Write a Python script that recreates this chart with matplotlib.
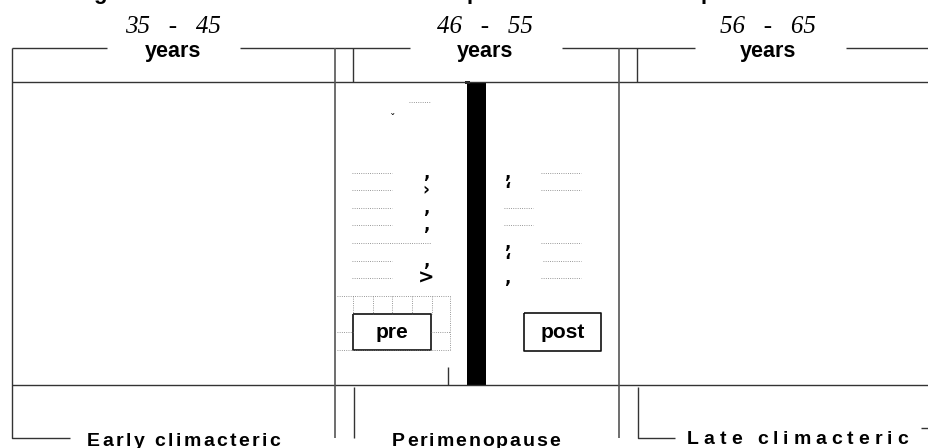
import matplotlib.pyplot as plt

# labels of the diagram
title_bits = ['g', 'p', 'p']
age_labels = ['35   -   45', '46   -   55', '56   -   65']
years_label = 'years'
phase_labels = ['Early climacteric', 'Perimenopause', 'Late climacteric']
box_labels = ['pre', 'post']

# layout (pixels)
W, H = 929, 448
title_x = [100, 473, 707]
age_x = [173, 485, 768]
phase_span = [(87, 280), (392, 560), (687, 908)]
box_span = [(353, 431, 314, 350), (524, 601, 313, 351)]
row_y = [173, 190, 208, 225, 243, 261, 278]
left_seg = [(352, 392), (352, 392), (352, 392), (352, 392), (352, 431), (352, 392), (352, 392)]
right_seg = [(541, 581), (541, 581), (504, 533), (504, 533), (541, 581), (543, 581), (541, 581)]
left_mark = [',', '›', ',', ',', '', ',', '>']
right_mark = [',', '‘', '', '', ',', '‘', ',']
bar_x = (467, 486)

fig = plt.figure(figsize=(9.29, 4.48), dpi=100)
ax = fig.add_axes([0, 0, 1, 1])
ax.set_xlim(0, W)
ax.set_ylim(H, 0)
ax.axis('off')

lc = '#333333'
def line(xs, ys, lw=1.0, c=lc, ls='-'):
    ax.plot(xs, ys, color=c, lw=lw, ls=ls, solid_capstyle='butt')

# frame lines
for a, b in [(12, 107), (240, 410), (562, 695), (846, 929)]:
    line([a, b], [48, 48])
line([12, 12, 70], [48, 438, 438])
line([12, 929], [82, 82])
line([12, 929], [385, 385])
for x in [335, 619]:
    line([x, x], [48, 438], lw=1.2, c='#555555')
for x in [353, 637]:
    line([x, x], [48, 82])
line([354, 354], [387, 438])
line([638, 638, 675], [387, 438, 438])
line([448, 448], [367, 385])
line([921, 929], [428, 428])

# menopause bar
ax.bar((bar_x[0] + bar_x[1]) / 2, 385 - 83, width=bar_x[1] - bar_x[0], bottom=83, color='black')
ax.bar(467.5, 3, width=5, bottom=81, color='#222222')

# cut-off title
for ch, x in zip(title_bits, title_x):
    ax.text(x, -1.5, ch, fontsize=16, fontweight='bold', family='Liberation Sans',
            ha='center', va='baseline')

for lab, x in zip(age_labels, age_x):
    ax.text(x, 33, lab, fontsize=18, style='italic', family='Liberation Serif',
            ha='center', va='baseline')
    ax.text(x, 57, years_label, fontsize=15.5, fontweight='bold', family='Liberation Sans',
            ha='center', va='baseline')

r = fig.canvas.get_renderer()
def spaced(s, x0, x1, y, size):
    ws = []
    for ch in s:
        if ch == ' ':
            ws.append(size * 100 / 72 * 0.278)
        else:
            t = ax.text(0, 0, ch, fontsize=size, fontweight='bold', family='Liberation Sans')
            ws.append(t.get_window_extent(r).width)
            t.remove()
    gap = (x1 - x0 - sum(ws)) / (len(s) - 1)
    x = x0
    for ch, w in zip(s, ws):
        ax.text(x, y, ch, fontsize=size, fontweight='bold', family='Liberation Sans',
                ha='left', va='baseline')
        x += w + gap

for lab, (a, b), y in zip(phase_labels, phase_span, [446, 446, 444]):
    spaced(lab, a, b, y, 14)

# pre / post boxes
for lab, (a, b, t, bt) in zip(box_labels, box_span):
    line([a, b, b, a, a], [t, t, bt, bt, t], lw=1.2, c='#111111')
    ax.text((a + b) / 2, (t + bt) / 2 + 1, lab, fontsize=15, fontweight='bold',
            family='Liberation Sans', ha='center', va='center')

# faint dotted remains
dc = '#777777'
for y, (a, b), (c, d) in zip(row_y, left_seg, right_seg):
    line([a, b], [y, y], lw=0.6, c=dc, ls=':')
    line([c, d], [y, y], lw=0.6, c=dc, ls=':')
for y, m in zip(row_y, left_mark):
    if m:
        ax.text(426, y, m, fontsize=12 if m != '>' else 14, fontweight='bold',
                ha='center', va='center')
for y, m in zip(row_y, right_mark):
    if m:
        ax.text(507, y, m, fontsize=12, fontweight='bold', ha='center', va='center')
line([409, 431], [102, 102], lw=0.6, c=dc, ls=':')
ax.text(393, 119, 'ˇ', fontsize=8, ha='center', va='center')
line([337, 450], [296, 296], lw=0.6, c=dc, ls=':')
line([337, 450], [350, 350], lw=0.6, c=dc, ls=':')
line([337, 353], [332, 332], lw=0.6, c=dc, ls=':')
line([431, 450], [332, 332], lw=0.6, c=dc, ls=':')
for x in [353, 373, 392, 412, 432]:
    line([x, x], [296, 314], lw=0.6, c=dc, ls=':')
line([450, 450], [296, 350], lw=0.6, c=dc, ls=':')

fig.savefig('out.png', dpi=100)
